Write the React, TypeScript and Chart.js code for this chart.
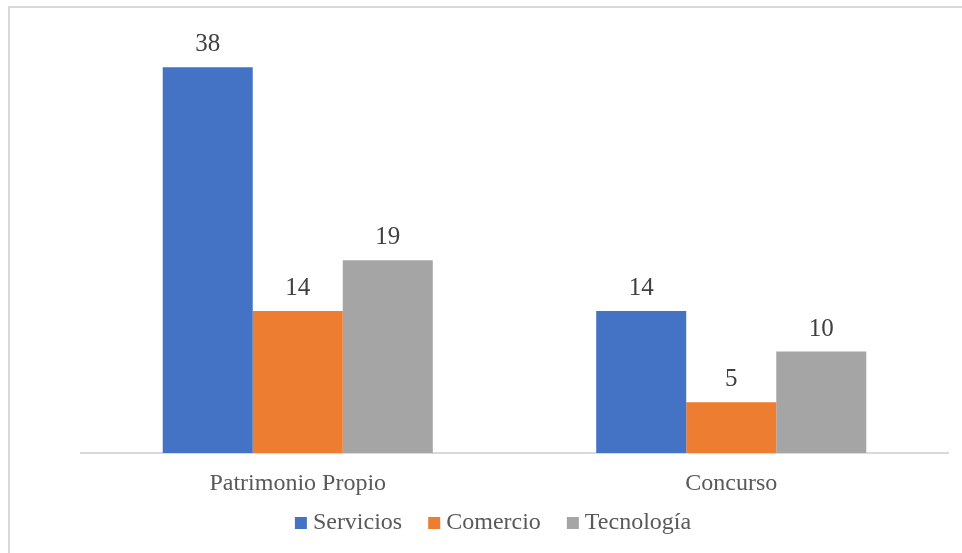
import React, { useEffect, useRef } from "react";
import { Chart, registerables } from "chart.js";

Chart.register(...registerables);

const categories = ["Patrimonio Propio", "Concurso"];
const seriesNames = ["Servicios", "Comercio", "Tecnología"];
const servicios = [38, 14];
const comercio = [14, 5];
const tecnologia = [19, 10];
const seriesColors = ["#4472C4", "#ED7D31", "#A5A5A5"];
const yMin = 0;
const yMax = 40;

const FONT = "'Liberation Serif', 'Times New Roman', serif";
const CW = 970;
const CH = 560;

const frame = {
  id: "frame",
  beforeDraw(chart: any) {
    const ctx = chart.ctx;
    ctx.save();
    ctx.fillStyle = "#ffffff";
    ctx.fillRect(0, 0, chart.width, chart.height);
    ctx.strokeStyle = "#d9d9d9";
    ctx.lineWidth = 2;
    ctx.beginPath();
    ctx.moveTo(1, chart.height);
    ctx.lineTo(1, 1);
    ctx.lineTo(chart.width, 1);
    ctx.stroke();
    ctx.restore();
  },
};

const valueLabels = {
  id: "valueLabels",
  afterDatasetsDraw(chart: any) {
    const ctx = chart.ctx;
    ctx.save();
    ctx.font = `25px ${FONT}`;
    ctx.fillStyle = "#404040";
    ctx.textAlign = "center";
    ctx.textBaseline = "alphabetic";
    chart.data.datasets.forEach((ds: any, i: number) => {
      const meta = chart.getDatasetMeta(i);
      meta.data.forEach((el: any, j: number) => {
        ctx.fillText(String(ds.data[j]), el.x, el.y - 16);
      });
    });
    ctx.restore();
  },
};

const customLegend = {
  id: "customLegend",
  afterDraw(chart: any) {
    const ctx = chart.ctx;
    ctx.save();
    ctx.font = `24px ${FONT}`;
    const box = 12;
    const gapText = 6;
    const gapItem = 26;
    const items = chart.data.datasets.map((ds: any) => ({
      text: ds.label,
      color: ds.backgroundColor,
      w: ctx.measureText(ds.label).width,
    }));
    let total = 0;
    items.forEach((it: any, i: number) => {
      total += box + gapText + it.w + (i < items.length - 1 ? gapItem : 0);
    });
    let x = chart.width / 2 - total / 2;
    const baseline = chart.height - 37;
    ctx.textBaseline = "alphabetic";
    ctx.textAlign = "left";
    items.forEach((it: any) => {
      ctx.fillStyle = it.color;
      ctx.fillRect(x, baseline - 12, box, box);
      ctx.fillStyle = "#595959";
      ctx.fillText(it.text, x + box + gapText, baseline);
      x += box + gapText + it.w + gapItem;
    });
    ctx.restore();
  },
};

export default function App() {
  const ref = useRef<HTMLCanvasElement | null>(null);

  useEffect(() => {
    if (!ref.current) return;
    const chart = new Chart(ref.current, {
      type: "bar",
      data: {
        labels: categories,
        datasets: [
          { label: seriesNames[0], data: servicios, backgroundColor: seriesColors[0] },
          { label: seriesNames[1], data: comercio, backgroundColor: seriesColors[1] },
          { label: seriesNames[2], data: tecnologia, backgroundColor: seriesColors[2] },
        ],
      },
      options: {
        responsive: false,
        animation: false,
        devicePixelRatio: 1,
        layout: { padding: { left: 73, right: 30, top: 41, bottom: 53 } },
        datasets: {
          bar: { categoryPercentage: 0.623, barPercentage: 1.0 },
        },
        plugins: {
          legend: { display: false },
          tooltip: { enabled: false },
        },
        scales: {
          x: {
            grid: { display: false },
            border: { display: true, color: "#d9d9d9", width: 2 },
            ticks: {
              font: { family: FONT, size: 24 },
              color: "#595959",
              padding: 8,
            },
            afterFit: (scale: any) => {
              scale.height = 60;
            },
          },
          y: {
            display: false,
            min: yMin,
            max: yMax,
          },
        },
      },
      plugins: [frame, valueLabels, customLegend],
    });
    return () => chart.destroy();
  }, []);

  return (
    <div
      style={{
        position: "fixed",
        left: 0,
        top: 0,
        width: 962,
        height: 553,
        overflow: "hidden",
        background: "#ffffff",
      }}
    >
      <canvas
        ref={ref}
        width={CW}
        height={CH}
        style={{ position: "absolute", left: 8, top: 6, width: CW, height: CH }}
      />
    </div>
  );
}
